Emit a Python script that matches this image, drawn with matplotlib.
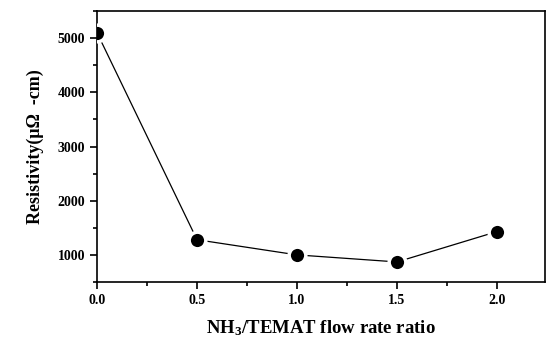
import matplotlib
matplotlib.use("Agg")
import matplotlib.pyplot as plt
from matplotlib.ticker import MultipleLocator

x = [0.0, 0.5, 1.0, 1.5, 2.0]
resistivity = [5100, 1280, 1000, 870, 1430]
xticks = [0.0, 0.5, 1.0, 1.5, 2.0]
yticks = [1000, 2000, 3000, 4000, 5000]

plt.rcParams['font.family'] = ['Liberation Serif', 'DejaVu Serif']
plt.rcParams['font.weight'] = 'bold'
plt.rcParams['mathtext.fontset'] = 'custom'
plt.rcParams['mathtext.rm'] = 'Liberation Serif:bold'
plt.rcParams['mathtext.bf'] = 'Liberation Serif:bold'
plt.rcParams['mathtext.it'] = 'Liberation Serif:bold'

fig = plt.figure(figsize=(5.49, 3.40), dpi=100)
ax = fig.add_axes([0.1767, 0.1706, 0.8160, 0.7970])
ax.plot(x, resistivity, color='black', lw=0.9, marker='o', markersize=12,
        markerfacecolor='black', markeredgecolor='white', markeredgewidth=2.5, zorder=3)

ax.set_xlim(0.0, 2.24)
ax.set_ylim(500, 5500)
ax.set_xticks(xticks)
ax.set_xticklabels([f"{v:.1f}" for v in xticks])
ax.set_yticks(yticks)
ax.xaxis.set_minor_locator(MultipleLocator(0.25))
ax.yaxis.set_minor_locator(MultipleLocator(500))
ax.tick_params(which='both', direction='out', top=False, right=False, labelsize=10, width=1.2)
ax.tick_params(which='major', length=5)
ax.tick_params(which='minor', length=3)
for s in ax.spines.values():
    s.set_linewidth(1.2)
for lab in ax.get_xticklabels() + ax.get_yticklabels():
    lab.set_fontweight('bold')

ax.set_xlabel("NH$_\\mathrm{3}$/TEMAT flow rate ratio", fontsize=13.5, fontweight='bold', labelpad=8)
ax.set_ylabel("Resistivity(\u03bc\u03a9  -cm)", fontsize=13, fontweight='bold', labelpad=10)

fig.savefig("out.png", dpi=100)
